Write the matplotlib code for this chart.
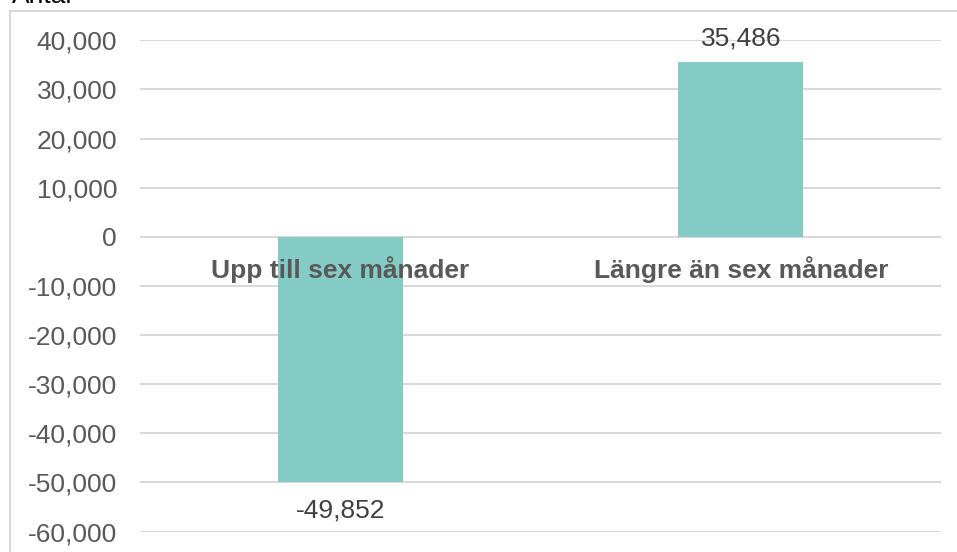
import matplotlib
matplotlib.use("Agg")
import matplotlib.pyplot as plt
from matplotlib.patches import Rectangle
from matplotlib.ticker import FuncFormatter

categories = ["Upp till sex månader", "Längre än sex månader"]
values = [-49852, 35486]
y_ticks = [40000, 30000, 20000, 10000, 0, -10000, -20000, -30000, -40000, -50000, -60000]
y_label = "Antal"

W, H = 957, 552
fig = plt.figure(figsize=(W / 100, H / 100), dpi=100)
fig.patch.set_facecolor("white")

# outer chart-area border (only top and left visible)
fig.patches.append(Rectangle((10 / W, -0.2), 1.2, 0.2 + (1 - 11 / H), transform=fig.transFigure,
                             fill=False, edgecolor="#d9d9d9", linewidth=1.5, zorder=0))

left, right = 140 / W, 941 / W
top_px, bot_px = 40.3, 531.6
ax = fig.add_axes([left, 1 - bot_px / H, right - left, (bot_px - top_px) / H])
ax.set_facecolor("none")

font = "Liberation Sans"
x = list(range(len(categories)))
ax.bar(x, values, width=0.3125, color="#85CBC5", zorder=2)
ax.set_xlim(-0.5, len(categories) - 0.5)
ax.set_ylim(min(y_ticks), max(y_ticks))
ax.set_yticks(y_ticks)
ax.yaxis.set_major_formatter(FuncFormatter(lambda v, p: f"{int(v):,}"))
ax.tick_params(axis="y", length=0, pad=16.5, labelsize=19, labelcolor="#595959")
for lab in ax.get_yticklabels():
    lab.set_fontfamily(font)
ax.set_xticks([])
for s in ax.spines.values():
    s.set_visible(False)
ax.grid(axis="y", color="#d9d9d9", linewidth=1.5, zorder=0)
ax.set_axisbelow(True)

for i, (c, v) in enumerate(zip(categories, values)):
    ax.annotate(c, xy=(i, 0), xytext=(0, -33), textcoords="offset pixels",
                ha="center", va="center", fontsize=19, fontweight="bold",
                color="#595959", family=font, zorder=3)
    off = 24 if v >= 0 else -29
    ax.annotate(f"{v:,}", xy=(i, v), xytext=(0, off), textcoords="offset pixels",
                ha="center", va="center", fontsize=19, color="#404040", family=font, zorder=3)

fig.text(12 / W, 1 - 3 / H, y_label, ha="left", va="baseline", fontsize=19,
         color="#000000", family=font)

fig.savefig("out.png", dpi=100)
